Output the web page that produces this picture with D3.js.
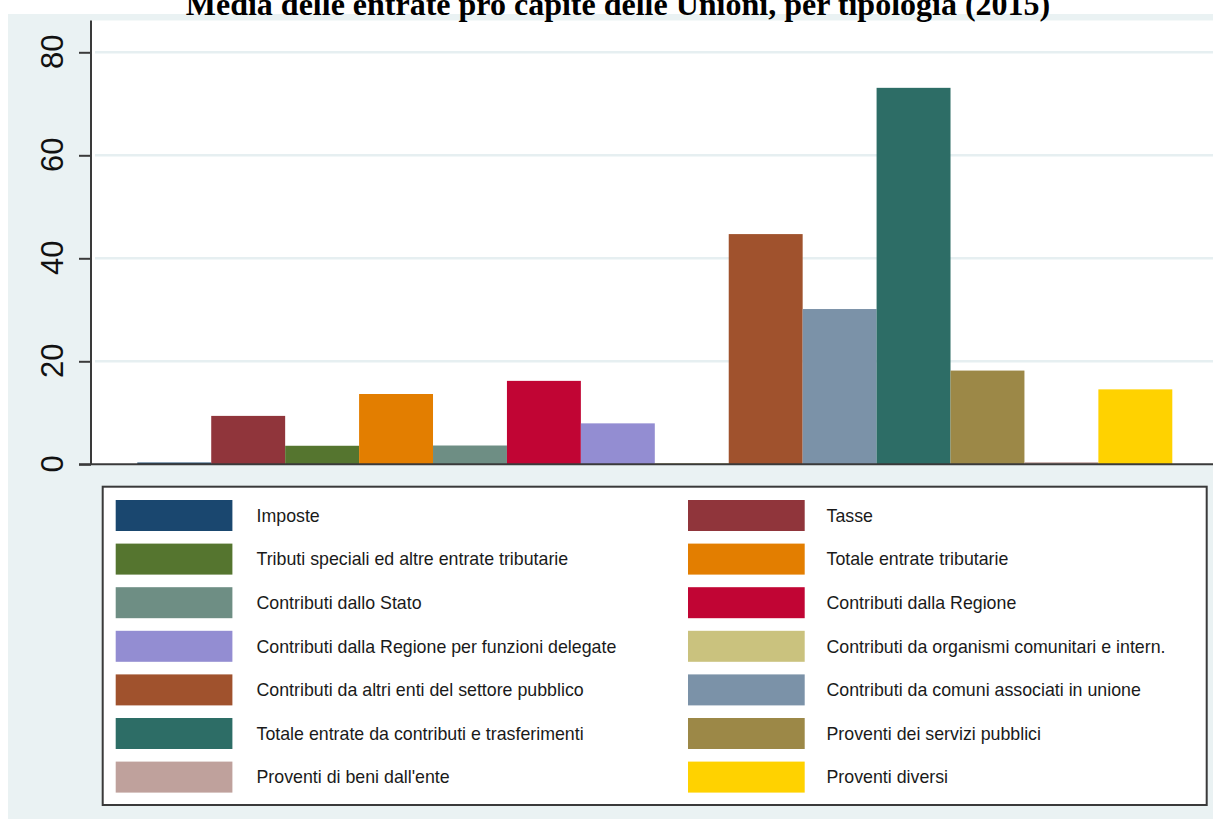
<!DOCTYPE html>
<html>
<head>
<meta charset="utf-8">
<script src="https://cdn.jsdelivr.net/npm/d3@7"></script>
<style>
  html, body { margin: 0; padding: 0; background: #ffffff; }
  svg { display: block; }
</style>
</head>
<body>
<svg id="chart" width="1213" height="819"></svg>
<script>
// ---- data ----
const categories = [
  "Imposte",
  "Tasse",
  "Tributi speciali ed altre entrate tributarie",
  "Totale entrate tributarie",
  "Contributi dallo Stato",
  "Contributi dalla Regione",
  "Contributi dalla Regione per funzioni delegate",
  "Contributi da organismi comunitari e intern.",
  "Contributi da altri enti del settore pubblico",
  "Contributi da comuni associati in unione",
  "Totale entrate da contributi e trasferimenti",
  "Proventi dei servizi pubblici",
  "Proventi di beni dall'ente",
  "Proventi diversi"
];
const values = [0.35, 9.4, 3.6, 13.65, 3.65, 16.2, 7.95, 0.2, 44.7, 30.15, 73.1, 18.2, 0.4, 14.55];
const colors = ["#1a476f", "#90353b", "#55752f", "#e37e00", "#6e8e84", "#c10534", "#938dd2",
                "#cac27e", "#a0522d", "#7b92a8", "#2d6d66", "#9c8847", "#bfa19c", "#ffd200"];
const yTicks = [0, 20, 40, 60, 80];
const title = "Media delle entrate pro capite delle Unioni, per tipologia (2015)";

// ---- layout ----
const W = 1213, H = 819;
const svg = d3.select("#chart");
const plot = { left: 91, right: 1213, top: 20.5, bottom: 464.3 };

// outer background
svg.append("rect").attr("x", 8).attr("y", 14).attr("width", W - 8).attr("height", H - 14)
  .attr("fill", "#eaf2f3");
// plot region
svg.append("rect").attr("x", plot.left).attr("y", plot.top)
  .attr("width", plot.right - plot.left).attr("height", plot.bottom - plot.top)
  .attr("fill", "#ffffff");

const x = d3.scaleBand().domain(categories).range([137.3, 1172.3]).padding(0);
const y = d3.scaleLinear().domain([0, 80]).range([464.3, 52.3]);

// gridlines
svg.append("g").selectAll("line").data(yTicks.filter(d => d > 0)).join("line")
  .attr("x1", 95).attr("x2", plot.right)
  .attr("y1", d => y(d)).attr("y2", d => y(d))
  .attr("stroke", "#e6eff1").attr("stroke-width", 2.5);

// bars
svg.append("g").selectAll("rect").data(categories).join("rect")
  .attr("x", d => x(d))
  .attr("y", (d, i) => y(values[i]))
  .attr("width", x.bandwidth())
  .attr("height", (d, i) => y(0) - y(values[i]))
  .attr("fill", (d, i) => colors[i]);

// y axis
const yAxis = d3.axisLeft(y).tickValues(yTicks).tickSize(12).tickPadding(0).tickFormat(d3.format("d"));
const gy = svg.append("g").attr("transform", `translate(${plot.left},0)`).call(yAxis);
gy.select(".domain").attr("stroke", "#3a3a3a").attr("stroke-width", 2)
  .attr("d", `M0,${plot.top}V${y(0)}`);
gy.selectAll(".tick line").attr("stroke", "#3a3a3a").attr("stroke-width", 2);
gy.selectAll(".tick text")
  .attr("font-family", "'Liberation Sans', Arial, sans-serif")
  .attr("font-size", 31)
  .attr("fill", "#111")
  .attr("text-anchor", "middle")
  .attr("x", null).attr("dy", null)
  .attr("transform", "translate(-28,-1) rotate(-90)");

// x axis line
svg.append("line").attr("x1", 79).attr("x2", plot.right)
  .attr("y1", y(0)).attr("y2", y(0))
  .attr("stroke", "#3a3a3a").attr("stroke-width", 2);

// legend
const leg = { left: 102.7, top: 486.7, right: 1206.7, bottom: 805 };
svg.append("rect").attr("x", leg.left).attr("y", leg.top)
  .attr("width", leg.right - leg.left).attr("height", leg.bottom - leg.top)
  .attr("fill", "#ffffff").attr("stroke", "#3a3a3a").attr("stroke-width", 2);

const colX = [115.7, 688];
const textX = [256.5, 826.5];
const rowTop = 500, rowPitch = 43.6, swH = 31, swW = 116.7;
const items = svg.append("g").selectAll("g").data(categories).join("g")
  .attr("transform", (d, i) => `translate(0,${rowTop + Math.floor(i / 2) * rowPitch})`);
items.append("rect")
  .attr("x", (d, i) => colX[i % 2]).attr("y", 0)
  .attr("width", swW).attr("height", swH)
  .attr("fill", (d, i) => colors[i]);
items.append("text")
  .attr("x", (d, i) => textX[i % 2]).attr("y", swH / 2)
  .attr("dy", "0.35em")
  .attr("font-family", "'Liberation Sans', Arial, sans-serif")
  .attr("font-size", 17.8)
  .attr("fill", "#1a1a1a")
  .text(d => d);

// title
svg.append("text")
  .attr("x", 618).attr("y", 15)
  .attr("text-anchor", "middle")
  .attr("font-family", "'Liberation Serif', 'Times New Roman', serif")
  .attr("font-weight", "bold")
  .attr("font-size", 32)
  .attr("fill", "#000")
  .text(title);
</script>
</body>
</html>
